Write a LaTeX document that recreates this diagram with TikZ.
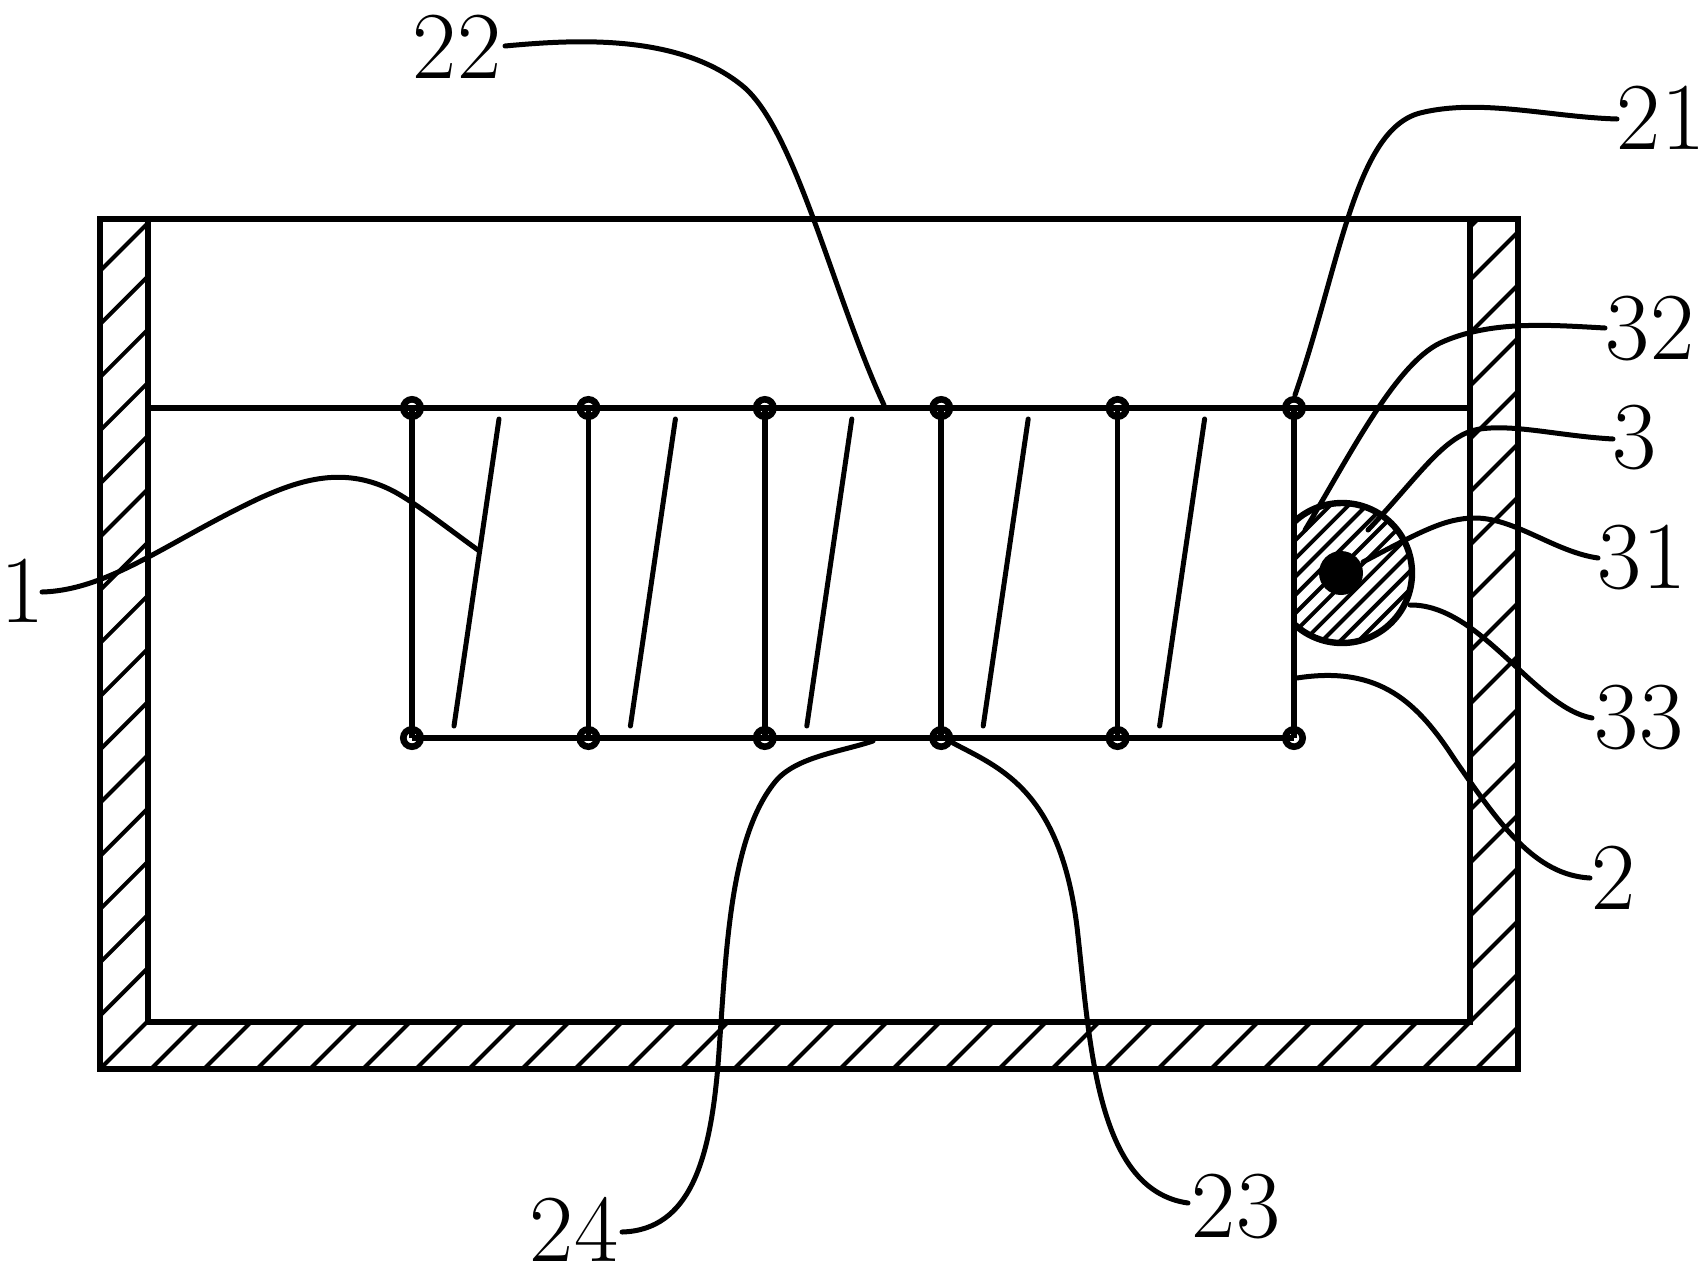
\documentclass[tikz,border=0pt]{standalone}
\tikzset{
  x=0.5pt,y=-0.5pt,
  wall/.style={line width=3.2pt,line join=miter},
  wire/.style={line width=2.8pt},
  hatchline/.style={line width=2pt},
  leader/.style={line width=2.5pt,line cap=round},
  hub/.style={circle,draw,line width=3.3pt,inner sep=0pt,minimum size=8.7pt},
  lab/.style={inner sep=0pt,font=\fontsize{48}{48}\selectfont},
}
\begin{document}
\begin{tikzpicture}
\useasboundingbox (0,0) rectangle (1707,1270);
% hatching of the walls
\foreach \k in {0,...,15}{
  \pgfmathsetmacro{\c}{371+53.2*\k}
  \draw[hatchline] ({148},{\c-148}) -- ({100},{\c-100});
}
\foreach \k in {0,...,24}{
  \pgfmathsetmacro{\c}{1220+53*\k}
  \draw[hatchline] ({\c-1069},{1069}) -- ({\c-1022},{1022});
}
\begin{scope}
\clip (1470,219) rectangle (1518,1069);
\foreach \k in {0,...,16}{
  \pgfmathsetmacro{\c}{2545-53*\k}
  \draw[hatchline] ({1470},{\c-1470}) -- ({1518},{\c-1518});
}
\end{scope}
% walls
\draw[wall] (100,219) rectangle (1518,1069);
\draw[wall] (148,219) -- (148,1022) -- (1470,1022) -- (1470,219);
% hubs
\foreach \i/\x in {1/412,2/588.4,3/764.8,4/941.2,5/1117.6,6/1294}{
  \node[hub] (t\i) at (\x,408) {};
  \node[hub] (b\i) at (\x,738) {};
}
% round body
\begin{scope}
\clip (1294,480) rectangle (1430,660);
\foreach \k in {-8,...,9}{
  \pgfmathsetmacro{\c}{1872+18.2*\k}
  \begin{scope}
  \clip (1342,573) circle [radius=70];
  \draw[hatchline] ({1280},{\c-1280}) -- ({1420},{\c-1420});
  \end{scope}
}
\draw[wall] (1342,573) circle [radius=70];
\end{scope}
\fill (1341,573) circle [radius=22];
% wires
\coordinate (wl) at (148,408);
\coordinate (wr) at (1470,408);
\draw[wire] (wl) -- (wr);
\draw[wire] (b1.center) -- (b6.center);
\foreach \i in {1,...,6}{
  \draw[wire] (t\i.center) -- (b\i.center);
}
% slanted strokes
\foreach \d in {0,176.4,352.8,529.2,705.6}{
  \draw[line width=2.5pt,line cap=round] ({499+\d},419) -- ({454+\d},726);
}
% labels
\node[lab] (n22) at (457,47) {22};
\node[lab] (n21) at (1661,118) {21};
\node[lab] (n32) at (1650,329) {32};
\node[lab] (n3) at (1635,438) {3};
\node[lab] (n31) at (1642,558) {31};
\node[lab] (n33) at (1639,718) {33};
\node[lab] (n2) at (1614,878) {2};
\node[lab] (n1) at (23,591) {1};
\node[lab] (n24) at (574,1229) {24};
\node[lab] (n23) at (1236,1207) {23};
% leader ends at labels
\coordinate (e22) at (505,46);
\coordinate (e21) at (1617,119);
\coordinate (e32) at (1605,328);
\coordinate (e3) at (1613,439);
\coordinate (e31) at (1598,558);
\coordinate (e33) at (1592,718);
\coordinate (e2) at (1590,878);
\coordinate (e1) at (42,592);
\coordinate (e24) at (622,1232);
\coordinate (e23) at (1188,1203);
% leader ends at parts
\coordinate (p22) at (884,405);
\coordinate (p21) at (1295,395);
\coordinate (p32) at (1305,530);
\coordinate (p3) at (1368,530);
\coordinate (p31) at (1363,562);
\coordinate (p33) at (1410,605);
\coordinate (p2) at (1297,678);
\coordinate (p1) at (478,550);
\coordinate (p24) at (873,741);
\coordinate (p23) at (953,743);
% leaders
\draw[leader] (e22) .. controls (570,40) and (680,32) .. (745,88) .. controls (797,135) and (835,300) .. (p22);
\draw[leader] (e21) .. controls (1550,117) and (1480,98) .. (1420,113) .. controls (1355,130) and (1340,265) .. (p21);
\draw[leader] (e32) .. controls (1550,325) and (1490,320) .. (1440,343) .. controls (1395,365) and (1350,455) .. (p32);
\draw[leader] (e3) .. controls (1560,436) and (1515,424) .. (1480,429) .. controls (1445,434) and (1420,475) .. (p3);
\draw[leader] (e31) .. controls (1555,552) and (1515,518) .. (1475,518) .. controls (1445,518) and (1420,532) .. (p31);
\draw[leader] (e33) .. controls (1535,708) and (1480,604) .. (p33);
\draw[leader] (e2) .. controls (1535,875) and (1500,825) .. (1455,760) .. controls (1418,703) and (1380,665) .. (p2);
\draw[leader] (e1) .. controls (110,590) and (170,540) .. (260,498) .. controls (300,480) and (345,465) .. (395,492) .. controls (420,506) and (450,530) .. (p1);
\draw[leader] (e24) .. controls (690,1230) and (710,1160) .. (718,1065) .. controls (726,960) and (728,840) .. (775,782) .. controls (795,757) and (840,752) .. (p24);
\draw[leader] (p23) .. controls (1000,768) and (1060,790) .. (1077,927) .. controls (1090,1040) and (1095,1190) .. (e23);
\end{tikzpicture}
\end{document}
